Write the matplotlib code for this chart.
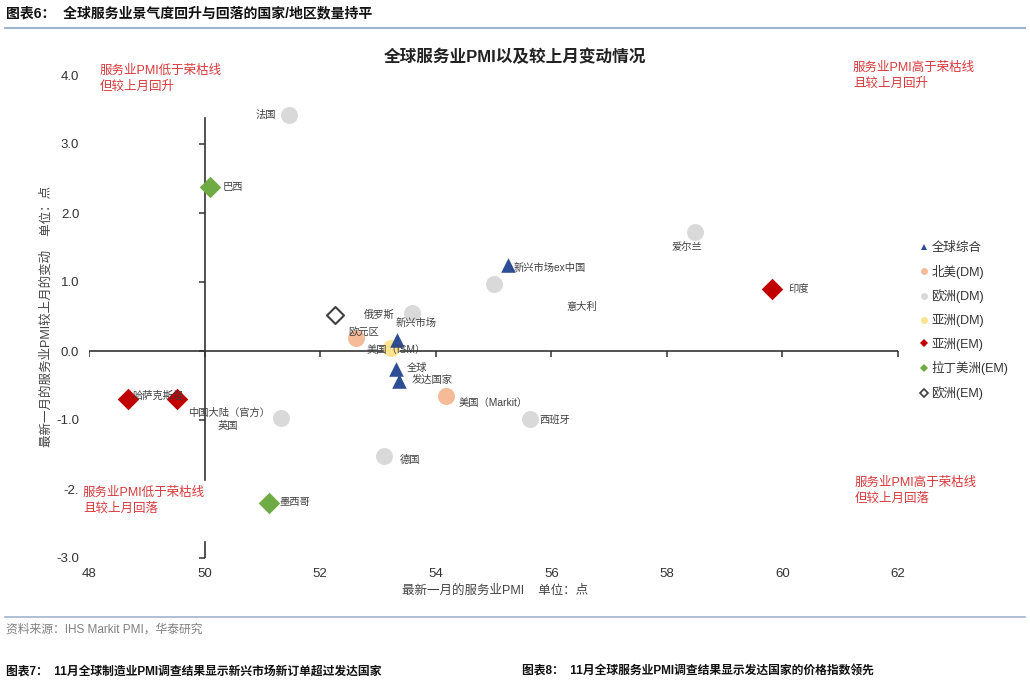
import matplotlib
matplotlib.use("Agg")
import matplotlib.pyplot as plt
from matplotlib.lines import Line2D

plt.rcParams['font.family'] = ['Liberation Sans', 'Noto Sans CJK SC', 'DejaVu Sans']

# ---------------- data ----------------
x_ticks = [48, 50, 52, 54, 56, 58, 60, 62]
x_ticklabels = ["48", "50", "52", "54", "56", "58", "60", "62"]
y_ticks = [4, 3, 2, 1, 0, -1, -2, -3]
y_ticklabels = ["4.0", "3.0", "2.0", "1.0", "0.0", "-1.0", "-2.", "-3.0"]

# 全球综合 (blue triangles)
glob_x = [55.25, 53.33, 53.31, 53.36]
glob_y = [1.25, 0.16, -0.26, -0.43]
glob_lab = ["新兴市场ex中国", "新兴市场", "全球", "发达国家"]

# 北美(DM)
na_x = [52.62, 54.18]
na_y = [0.19, -0.65]
na_lab = ["美国（ISM）", "美国（Markit）"]

# 欧洲(DM)
eu_x = [51.46, 58.48, 55.01, 53.59, 55.63, 53.10, 51.32]
eu_y = [3.42, 1.72, 0.97, 0.55, -0.99, -1.52, -0.97]
eu_lab = ["法国", "爱尔兰", "意大利", "欧元区", "西班牙", "德国", "英国"]

# 亚洲(DM)
adm_x = [53.22]
adm_y = [0.04]

# 亚洲(EM)
aem_x = [59.82, 48.67, 49.52]
aem_y = [0.90, -0.70, -0.70]
aem_lab = ["印度", "哈萨克斯坦", "中国大陆（官方）"]

# 拉丁美洲(EM)
la_x = [50.09, 51.11]
la_y = [2.38, -2.20]
la_lab = ["巴西", "墨西哥"]

# 欧洲(EM)
eem_x = [52.26]
eem_y = [0.52]
eem_lab = ["俄罗斯"]

legend_labels = ["全球综合", "北美(DM)", "欧洲(DM)", "亚洲(DM)", "亚洲(EM)", "拉丁美洲(EM)", "欧洲(EM)"]

# ---------------- styles ----------------
C_BLUE = "#2d4d94"
C_PEACH = "#f5bb98"
C_GRAY = "#d9d9d9"
C_YEL = "#ffe38f"
C_RED = "#c00000"
C_GREEN = "#6fab45"
C_HOLLOW = "#404040"
C_RED_TXT = "#d7393b"
C_LAB = "#404040"

W, H = 1030, 680
fig = plt.figure(figsize=(W / 100, H / 100), dpi=100)
ax = fig.add_axes([89 / W, 1 - 558 / H, (898 - 89) / W, (558 - 75) / H])
ax.set_xlim(48, 62)
ax.set_ylim(-3, 4)
for s in ax.spines.values():
    s.set_visible(False)
ax.set_xticks(x_ticks)
ax.set_xticklabels(x_ticklabels)
ax.set_yticks(y_ticks)
ax.set_yticklabels(y_ticklabels)
ax.tick_params(length=0, labelsize=9.5, colors="#333333")
ax.tick_params(axis='x', pad=7)
ax.tick_params(axis='y', pad=7)

# cross axis lines
ax.plot([48, 62], [0, 0], color="#333333", lw=1.2, zorder=1, solid_capstyle='butt')
ax.plot(x_ticks, [0] * len(x_ticks), ls='none', marker=3, ms=4, mew=1.1, color="#333333", zorder=1)
ax.plot([50, 50], [-1.87, 3.38], color="#333333", lw=1.2, zorder=1)
ax.plot([50, 50], [-3.0, -2.77], color="#333333", lw=1.2, zorder=1)
ax.plot([50] * 6, [3, 2, 1, 0, -1, -3], ls='none', marker=0, ms=4, mew=1.1, color="#333333", zorder=1)

# scatter
ax.scatter(eu_x, eu_y, s=150, marker='o', color=C_GRAY, zorder=3, lw=0)
ax.scatter(na_x, na_y, s=150, marker='o', color=C_PEACH, zorder=3, lw=0)
ax.scatter(adm_x, adm_y, s=150, marker='o', color=C_YEL, zorder=3, lw=0)
ax.scatter(glob_x, glob_y, s=110, marker='^', color=C_BLUE, zorder=4, lw=0)
ax.scatter(aem_x, aem_y, s=120, marker='D', color=C_RED, zorder=3, lw=0)
ax.scatter(la_x, la_y, s=120, marker='D', color=C_GREEN, zorder=3, lw=0)
ax.scatter(eem_x, eem_y, s=75, marker='D', facecolor='white', edgecolor=C_HOLLOW, lw=1.5, zorder=3)

# labels: (x, y, text, dx px, dy px, ha)
def lab(x, y, t, dx, dy, ha='left'):
    ax.annotate(t, (x, y), xytext=(dx, dy), textcoords='offset pixels',
                ha=ha, va='center', fontsize=7.4, color=C_LAB, zorder=5)

lab(glob_x[0], glob_y[0], glob_lab[0], 6, -3)
lab(glob_x[1], glob_y[1], glob_lab[1], 19, 17, 'center')
lab(glob_x[2], glob_y[2], glob_lab[2], 11, 1)
lab(glob_x[3], glob_y[3], glob_lab[3], 13, 1)
lab(na_x[0], na_y[0], na_lab[0], 40, -12, 'center')
lab(na_x[1], na_y[1], na_lab[1], 12, -7)
lab(eu_x[0], eu_y[0], eu_lab[0], -13, 0, 'right')
lab(eu_x[1], eu_y[1], eu_lab[1], -8, -15, 'center')
lab(eu_x[2], eu_y[2], eu_lab[2], 88, -23, 'center')
lab(eu_x[3], eu_y[3], eu_lab[3], -48, -19, 'center')
lab(eu_x[4], eu_y[4], eu_lab[4], 9, 0)
lab(eu_x[5], eu_y[5], eu_lab[5], 16, -4)
lab(eu_x[6], eu_y[6], eu_lab[6], -53, -8, 'center')
lab(aem_x[0], aem_y[0], aem_lab[0], 16, 0)
lab(aem_x[1], aem_y[1], aem_lab[1], 5, 4)
lab(aem_x[2], aem_y[2], aem_lab[2], 52, -14, 'center')
lab(la_x[0], la_y[0], la_lab[0], 13, 0)
lab(la_x[1], la_y[1], la_lab[1], 11, 1)
lab(eem_x[0], eem_y[0], eem_lab[0], 44, 0, 'center')

# quadrant notes
def note(px, py, t):
    fig.text(px / W, 1 - py / H, t, ha='left', va='top', fontsize=9, color=C_RED_TXT, linespacing=1.45)

note(100, 65, "服务业PMI低于荣枯线\n但较上月回升")
note(853, 62, "服务业PMI高于荣枯线\n且较上月回升")
note(83, 487, "服务业PMI低于荣枯线\n且较上月回落")
note(855, 477, "服务业PMI高于荣枯线\n但较上月回落")

# legend
handles = [
    Line2D([], [], ls='none', marker='^', ms=5, color=C_BLUE, mew=0),
    Line2D([], [], ls='none', marker='o', ms=5, color=C_PEACH, mew=0),
    Line2D([], [], ls='none', marker='o', ms=5, color=C_GRAY, mew=0),
    Line2D([], [], ls='none', marker='o', ms=5, color=C_YEL, mew=0),
    Line2D([], [], ls='none', marker='D', ms=4.5, color=C_RED, mew=0),
    Line2D([], [], ls='none', marker='D', ms=4.5, color=C_GREEN, mew=0),
    Line2D([], [], ls='none', marker='D', ms=4, markerfacecolor='white', markeredgecolor=C_HOLLOW, mew=1.2),
]
fig.legend(handles, legend_labels, loc='center left', bbox_to_anchor=(920 / W, 1 - 321 / H),
           frameon=False, fontsize=9, labelspacing=0.85, handlelength=0.6, handletextpad=0.3,
           borderpad=0, borderaxespad=0, labelcolor="#333333")

# titles and axis labels
fig.text(515 / W, 1 - 57 / H, "全球服务业PMI以及较上月变动情况", ha='center', va='center',
         fontsize=12, fontweight='bold', color="#222222")
fig.text(495 / W, 1 - 591 / H, "最新一月的服务业PMI    单位：点", ha='center', va='center',
         fontsize=9, color="#444444")
fig.text(47 / W, 1 - 316 / H, "最新一月的服务业PMI较上月的变动    单位：点", ha='center', va='center',
         rotation=90, fontsize=9, color="#444444")

# header / footer
fig.text(6 / W, 1 - 13 / H, "图表6：  全球服务业景气度回升与回落的国家/地区数量持平", ha='left', va='center',
         fontsize=10, fontweight='bold', color="#111111")
fig.add_artist(Line2D([5 / W, 1025 / W], [1 - 28 / H, 1 - 28 / H], color="#9fb4cf", lw=1.5))
fig.add_artist(Line2D([5 / W, 1025 / W], [1 - 617 / H, 1 - 617 / H], color="#9fb4cf", lw=1.2))
fig.text(6 / W, 1 - 630 / H, "资料来源：IHS Markit PMI，华泰研究", ha='left', va='center',
         fontsize=8.5, color="#808080")
fig.text(6 / W, 1 - 678 / H, "图表7：  11月全球制造业PMI调查结果显示新兴市场新订单超过发达国家", ha='left', va='bottom',
         fontsize=8.5, fontweight='bold', color="#111111")
fig.text(522 / W, 1 - 678 / H, "图表8：  11月全球服务业PMI调查结果显示发达国家的价格指数领先", ha='left', va='bottom',
         fontsize=8.5, fontweight='bold', color="#111111")

fig.savefig("out.png", dpi=100)
